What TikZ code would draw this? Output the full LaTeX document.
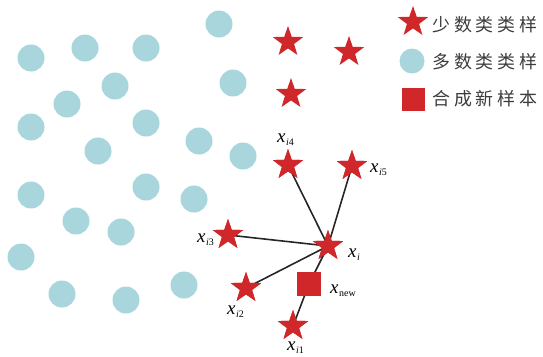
\documentclass[tikz,border=0pt]{standalone}
\usepackage{fontspec}
\setmainfont{Liberation Serif}
\newfontfamily\cjk[LetterSpace=22]{Noto Sans CJK SC}
\usetikzlibrary{shapes.geometric}
\definecolor{redc}{RGB}{208,40,42}
\definecolor{cyanc}{RGB}{168,214,220}
\definecolor{txtc}{RGB}{60,60,60}
\newcommand\xlab[1]{\textit{x}\kern0.5pt\raisebox{-0.4ex}{\fontsize{10}{10}\selectfont #1}}
\tikzset{
  dot/.style={circle,fill=cyanc,minimum size=27bp,inner sep=0pt},
  minstar/.style={star,star points=5,star point ratio=2.5,fill=redc,minimum size=32bp,inner sep=0pt},
  newsq/.style={rectangle,fill=redc,minimum size=24bp,inner sep=0pt},
  lab/.style={anchor=base west,inner sep=0pt,font=\fontsize{19}{19}\selectfont},
  link/.style={line width=1.6pt,black!85},
  legtext/.style={anchor=west,inner sep=0pt,text=txtc,font=\fontsize{18}{18}\selectfont\cjk}
}
\begin{document}
\begin{tikzpicture}[x=1bp,y=-1bp]
\useasboundingbox (0,0) rectangle (543,356);
% majority samples
\foreach \px/\py [count=\k] in {31/58,85/48,146/48,219/24,233/83,115/86,67/104,31/127,146/123,98/151,199/141,243/156,31/195,146/187,194/199,76/221,121/232,21/257,62/294,126/300,184/285}
  \node[dot] (c\k) at (\px,\py) {};
% minority samples
\node[minstar] (s1) at (288,42) {};
\node[minstar] (s2) at (349,52) {};
\node[minstar] (s3) at (291,94) {};
\node[minstar] (xi4) at (288,165) {};
\node[minstar] (xi5) at (352,166) {};
\node[minstar] (xi3) at (228,235) {};
\node[minstar] (xi) at (328,246) {};
\node[minstar] (xi2) at (246,288) {};
\node[minstar] (xi1) at (293,326) {};
\node[newsq] (xnew) at (309,284) {};
% connectors
\draw[link] (xi.center) -- (xi4.center);
\draw[link] (xi.center) -- (xi5.center);
\draw[link] (xi.center) -- (xi3.center);
\draw[link] (xi.center) -- (xi2.center);
\draw[link] (xi.center) -- (xnew.center);
\draw[link] (xnew.center) -- (xi1.center);
\node[minstar] at (xi) {};
\node[minstar] at (xi4) {};
\node[minstar] at (xi5) {};
\node[minstar] at (xi3) {};
\node[minstar] at (xi2) {};
\node[minstar] at (xi1) {};
\node[newsq] at (xnew) {};
% labels
\node[lab] (lxi4) at (277,142) {\xlab{\textit{i}4}};
\node[lab] (lxi5) at (370,172) {\xlab{\textit{i}5}};
\node[lab] (lxi3) at (197,242) {\xlab{\textit{i}3}};
\node[lab] (lxi) at (348,257) {\xlab{\textit{i}}};
\node[lab] (lxnew) at (330,293) {\xlab{new}};
\node[lab] (lxi2) at (227,314) {\xlab{\textit{i}2}};
\node[lab] (lxi1) at (287,350) {\xlab{\textit{i}1}};
% legend
\node[minstar] (lgstar) at (413,22) {};
\node[dot,minimum size=25bp] (lgdot) at (412,61) {};
\node[newsq,minimum size=23bp] (lgsq) at (413,99) {};
\node[legtext] (t1) at (432,25) {少数类类样};
\node[legtext] (t2) at (432,62) {多数类类样};
\node[legtext] (t3) at (432,99) {合成新样本};
\end{tikzpicture}
\end{document}
